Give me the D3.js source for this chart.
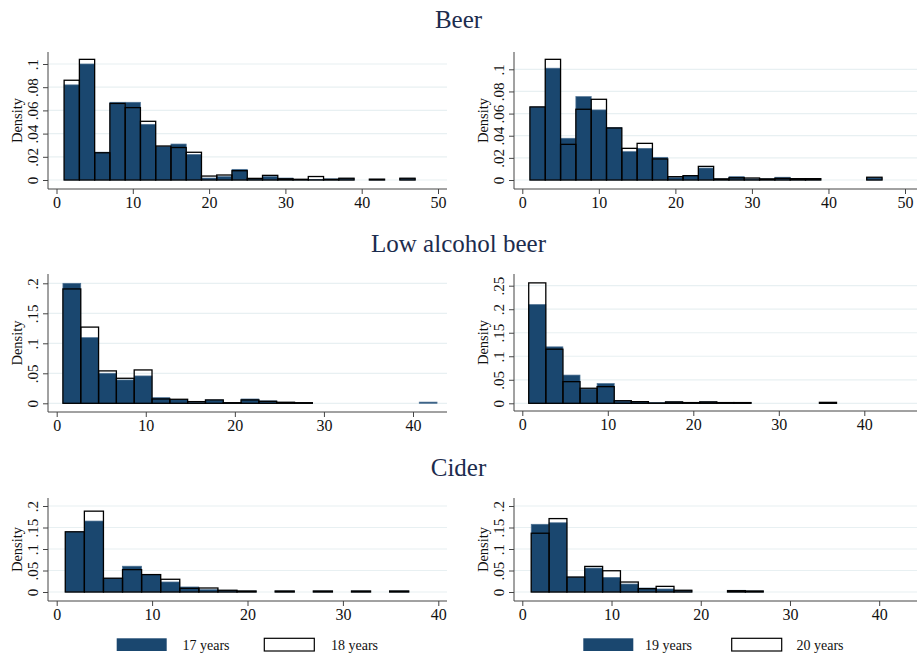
<!DOCTYPE html>
<html>
<head>
<meta charset="utf-8">
<script src="https://cdn.jsdelivr.net/npm/d3@7"></script>
<style>
body { margin: 0; background: #fff; }
svg { display: block; font-family: "Liberation Serif", "Times New Roman", serif; }
</style>
</head>
<body>
<svg id="chart" width="917" height="657"></svg>
<script>
// panel titles and legend labels
var titles = ["Beer", "Low alcohol beer", "Cider"];
var legendLeft = ["17 years", "18 years"];
var legendRight = ["19 years", "20 years"];

// densities per 2-unit bin
var beer17 = [0.082, 0.100, 0.024, 0.067, 0.067, 0.048, 0.029, 0.031, 0.022, 0.0017, 0.0029, 0.0092, 0.0014, 0.003, 0.0017, 0.0006, 0.0005, 0.001, 0.0015, 0, 0.0007, 0, 0.0015];
var beer18 = [0.086, 0.104, 0.0235, 0.066, 0.0624, 0.0506, 0.0293, 0.028, 0.0239, 0.0034, 0.0043, 0.008, 0.0014, 0.004, 0.001, 0.0006, 0.003, 0.0005, 0.0015, 0, 0.0007, 0, 0.0015];
var beer19 = [0.066, 0.101, 0.0377, 0.0753, 0.0633, 0.0473, 0.0256, 0.0286, 0.0205, 0.0024, 0.0042, 0.0108, 0.001, 0.003, 0.001, 0.001, 0.0025, 0.0012, 0.0012, 0, 0, 0, 0.002];
var beer20 = [0.066, 0.109, 0.0322, 0.0639, 0.0729, 0.047, 0.0286, 0.0331, 0.019, 0.003, 0.0039, 0.0123, 0.001, 0.002, 0.0018, 0.001, 0.0015, 0.0012, 0.0012, 0, 0, 0, 0.0025];

var low17 = [0.2, 0.1094, 0.05, 0.0389, 0.0456, 0.0094, 0.006, 0.0017, 0.0056, 0.001, 0.0072, 0.004, 0.0017, 0.001, 0, 0, 0, 0, 0, 0, 0.002];
var low18 = [0.1906, 0.127, 0.054, 0.0417, 0.0556, 0.0072, 0.0067, 0.0028, 0.0056, 0.001, 0.0056, 0.0033, 0.0017, 0.001];
var low19 = [0.21, 0.12, 0.06, 0.0305, 0.042, 0.005, 0.0035, 0.0015, 0.003, 0.0015, 0.003, 0.0015, 0.0015, 0, 0, 0, 0, 0.002];
var low20 = [0.256, 0.115, 0.046, 0.032, 0.0354, 0.0055, 0.0035, 0.0005, 0.003, 0.0015, 0.003, 0.0015, 0.0015, 0, 0, 0, 0, 0.002];

var cider17 = [0.14, 0.165, 0.032, 0.06, 0.0405, 0.0233, 0.0117, 0.0054, 0.004, 0.0023, 0, 0.0023, 0, 0.0023, 0, 0.0023, 0, 0.0023];
var cider18 = [0.14, 0.188, 0.032, 0.052, 0.0405, 0.0296, 0.0086, 0.0093, 0.004, 0.0023, 0, 0.0023, 0, 0.0023, 0, 0.0023, 0, 0.0023];
var cider19 = [0.1575, 0.161, 0.0347, 0.0556, 0.034, 0.0185, 0.0093, 0.007, 0.004, 0, 0, 0.004, 0.0023];
var cider20 = [0.1367, 0.1707, 0.0347, 0.0595, 0.0494, 0.0232, 0.0077, 0.0131, 0.004, 0, 0, 0.003, 0.0023];

// where the first bin starts in each panel
var binStarts = [1, 1, 0.7, 0.75, 0.9, 1];
var binWidth = 2;

// tick values and labels
var xTicks50 = [0, 10, 20, 30, 40, 50];
var xTicks40 = [0, 10, 20, 30, 40];
var yTicksBeer = [0, 0.02, 0.04, 0.06, 0.08, 0.1];
var yLabelsBeer = ["0", ".02", ".04", ".06", ".08", ".1"];
var yTicksShare = [0, 0.05, 0.1, 0.15, 0.2];
var yLabelsShare = ["0", ".05", ".1", ".15", ".2"];
var yTicksShare25 = [0, 0.05, 0.1, 0.15, 0.2, 0.25];
var yLabelsShare25 = ["0", ".05", ".1", ".15", ".2", ".25"];

var navy = "#1a476f";
var svg = d3.select("#chart");

// layout of each panel box
var panels = [
	{left: 48, right: 447, top: 52, axisY: 189, x0: 56.5, x1: 438, xMax: 50, y0: 180, y1: 64, yMax: 0.1,
	 filled: beer17, outline: beer18, xTicks: xTicks50, yTicks: yTicksBeer, yLabels: yLabelsBeer},
	{left: 514, right: 917, top: 52, axisY: 189, x0: 522.3, x1: 905, xMax: 50, y0: 180, y1: 69.3, yMax: 0.1,
	 filled: beer19, outline: beer20, xTicks: xTicks50, yTicks: yTicksBeer, yLabels: yLabelsBeer},
	{left: 48, right: 447, top: 274, axisY: 412, x0: 56.7, x1: 413, xMax: 40, y0: 403.3, y1: 283.3, yMax: 0.2,
	 filled: low17, outline: low18, xTicks: xTicks40, yTicks: yTicksShare, yLabels: yLabelsShare},
	{left: 514, right: 917, top: 274, axisY: 411, x0: 522.3, x1: 864.3, xMax: 40, y0: 403.3, y1: 285.7, yMax: 0.25,
	 filled: low19, outline: low20, xTicks: xTicks40, yTicks: yTicksShare25, yLabels: yLabelsShare25},
	{left: 48, right: 447, top: 498, axisY: 601, x0: 56.7, x1: 438.3, xMax: 40, y0: 592, y1: 506, yMax: 0.2,
	 filled: cider17, outline: cider18, xTicks: xTicks40, yTicks: yTicksShare, yLabels: yLabelsShare},
	{left: 514, right: 917, top: 498, axisY: 601, x0: 522.3, x1: 879.2, xMax: 40, y0: 592, y1: 506, yMax: 0.2,
	 filled: cider19, outline: cider20, xTicks: xTicks40, yTicks: yTicksShare, yLabels: yLabelsShare}
];

function toBins(values, start){
	return values.map(function(v, i){
		return {lo: start + i*binWidth, hi: start + (i+1)*binWidth, v: v};
	}).filter(function(d){ return d.v > 0 });
}

function drawPanel(p, start){
	var x = d3.scaleLinear().domain([0, p.xMax]).range([p.x0, p.x1]);
	var y = d3.scaleLinear().domain([0, p.yMax]).range([p.y0, p.y1]);
	var g = svg.append("g");

	g.selectAll("line.grid").data(p.yTicks).enter().append("line")
		.attr("x1", p.left).attr("x2", p.right)
		.attr("y1", function(d){ return y(d) }).attr("y2", function(d){ return y(d) })
		.attr("stroke", "#e8f0f2").attr("stroke-width", 1.2);

	g.selectAll("rect.fill").data(toBins(p.filled, start)).enter().append("rect")
		.attr("x", function(d){ return x(d.lo) })
		.attr("width", function(d){ return x(d.hi) - x(d.lo) })
		.attr("y", function(d){ return y(d.v) })
		.attr("height", function(d){ return y(0) - y(d.v) })
		.attr("fill", navy).attr("stroke", "#4d7193").attr("stroke-width", 0.7);

	g.selectAll("rect.outline").data(toBins(p.outline, start)).enter().append("rect")
		.attr("x", function(d){ return x(d.lo) })
		.attr("width", function(d){ return x(d.hi) - x(d.lo) })
		.attr("y", function(d){ return y(d.v) })
		.attr("height", function(d){ return y(0) - y(d.v) })
		.attr("fill", "none").attr("stroke", "#000").attr("stroke-width", 1.3);

	var xa = g.append("g").attr("transform", "translate(0," + p.axisY + ")")
		.call(d3.axisBottom(x).tickValues(p.xTicks).tickSize(5).tickPadding(3).tickFormat(d3.format("d")));
	xa.select(".domain").remove();
	xa.append("line").attr("x1", p.left).attr("x2", p.right).attr("stroke", "#444");
	xa.selectAll(".tick text").attr("font-size", 16);

	var ya = g.append("g").attr("transform", "translate(" + p.left + ",0)")
		.call(d3.axisLeft(y).tickValues(p.yTicks).tickSize(5)
			.tickFormat(function(d, i){ return p.yLabels[i] }));
	ya.select(".domain").remove();
	ya.append("line").attr("y1", p.top).attr("y2", p.axisY).attr("stroke", "#444");
	ya.selectAll(".tick text")
		.attr("x", null).attr("dy", null).attr("text-anchor", "middle").attr("font-size", 15)
		.attr("transform", "translate(-10,0) rotate(-90)");

	[xa, ya].forEach(function(a){
		a.attr("font-family", null);
		a.selectAll(".tick line").attr("stroke", "#444");
		a.selectAll(".tick text").attr("fill", "#111");
	});

	g.append("text")
		.attr("transform", "translate(" + (p.left - 26) + "," + ((p.top + p.axisY)/2) + ") rotate(-90)")
		.attr("text-anchor", "middle").attr("font-size", 14.5).attr("fill", "#111")
		.text("Density");
}

panels.forEach(function(p, i){ drawPanel(p, binStarts[i]) });

// row titles
var titleY = [28, 252, 476];
svg.selectAll("text.title").data(titles).enter().append("text")
	.attr("x", 458.5).attr("y", function(d, i){ return titleY[i] })
	.attr("text-anchor", "middle").attr("font-size", 25).attr("fill", "#1c2c4e")
	.text(function(d){ return d });

// legends
function drawLegend(labels, fx, ox, tx1, tx2){
	var lg = svg.append("g");
	lg.append("rect").attr("x", fx).attr("y", 638.3).attr("width", 50).attr("height", 12.7).attr("fill", navy);
	lg.append("rect").attr("x", ox).attr("y", 638.3).attr("width", 50).attr("height", 12.7)
		.attr("fill", "none").attr("stroke", "#000").attr("stroke-width", 1.2);
	lg.append("text").attr("x", tx1).attr("y", 650).attr("font-size", 14).attr("fill", "#111").text(labels[0]);
	lg.append("text").attr("x", tx2).attr("y", 650).attr("font-size", 14).attr("fill", "#111").text(labels[1]);
}
drawLegend(legendLeft, 116.7, 264.3, 182.5, 331);
drawLegend(legendRight, 583.3, 731.7, 645, 796.5);
</script>
</body>
</html>
